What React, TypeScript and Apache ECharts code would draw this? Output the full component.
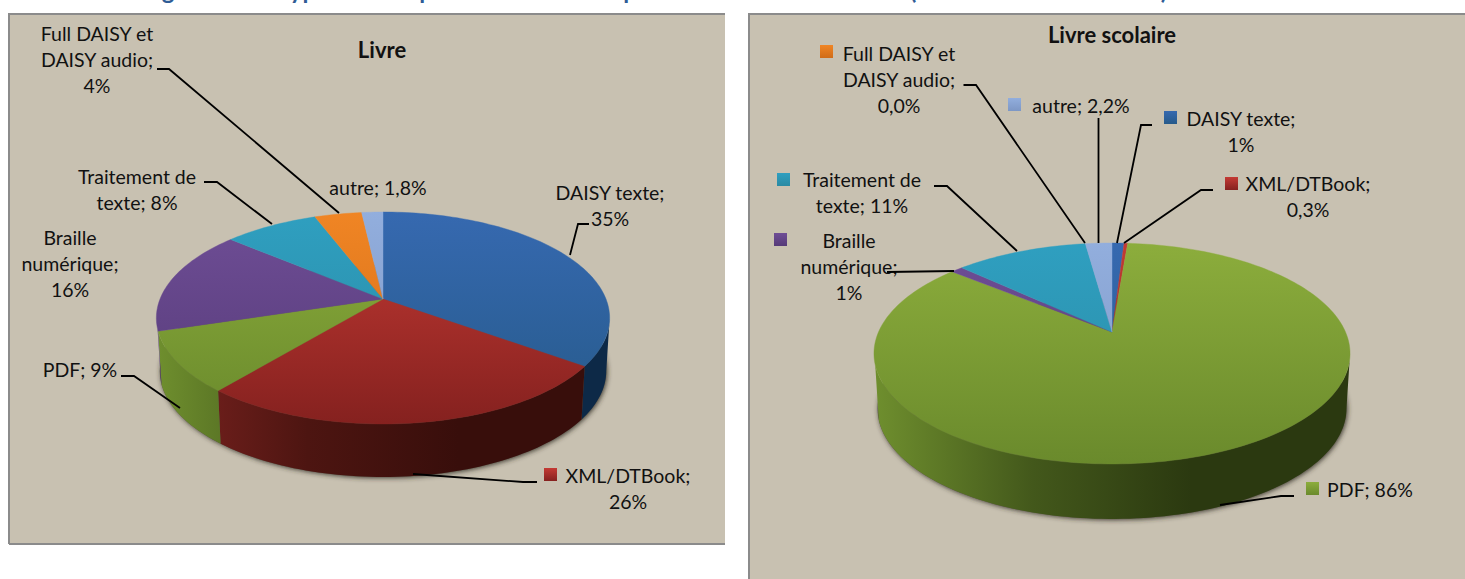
import React, { useEffect, useRef } from "react";
import * as echarts from "echarts";

// ---- data -----------------------------------------------------------
const categories = ["DAISY texte", "XML/DTBook", "PDF", "Braille numérique", "Traitement de texte", "Full DAISY et DAISY audio", "autre"];
const livreValues = [35, 26, 9.2, 16, 8, 4, 1.8];
const scolaireValues = [1, 0.3, 86, 1, 11, 0, 2.2];
const livreLabels = ["DAISY texte;\n35%", "XML/DTBook;\n26%", "PDF; 9%", "Braille\nnumérique;\n16%", "Traitement de\ntexte; 8%", "Full DAISY et\nDAISY audio;\n4%", "autre; 1,8%"];
const scolaireLabels = ["DAISY texte;\n1%", "XML/DTBook;\n0,3%", "PDF; 86%", "Braille\nnumérique;\n1%", "Traitement de\ntexte; 11%", "Full DAISY et\nDAISY audio;\n0,0%", "autre; 2,2%"];
const chartTitles = ["Livre", "Livre scolaire"];
const clippedHeading = [
  { t: "g", x: 168 }, { t: "yp", x: 303 }, { t: "p", x: 426 }, { t: "p", x: 630 }, { t: "(", x: 913 }, { t: ")", x: 1164 },
];

// ---- styling ----------------------------------------------------------
const topColors = [
  ["#3669b0", "#265a8a"], ["#c43a34", "#85211f"], ["#8cad3c", "#6a8a2c"], ["#6f4e96", "#553a78"],
  ["#2f9fc0", "#2a8aa3"], ["#f08524", "#d06c18"], ["#92aedd", "#7d97c5"],
];
const wallColors = [
  ["#1b4a7c", "#123356", "#0d2947"], ["#7d2320", "#4d1511", "#380e0b"], ["#6f8f2e", "#43581b", "#2b3910"], ["#5a3e80", "#3c2a58", "#2a1e40"],
  ["#25809a", "#1a5a6c", "#134352"], ["#b8651c", "#804612", "#5c320d"], ["#7288b4", "#4e5f80", "#38445c"],
];
const FONT = "Lato";
const PANEL = "#c8c1b1";
const EDGE = "#8b8b8b";

type Geom = { cx: number; cy: number; a: number; b: number; k: number; depth: number; shrink: number };
const livreGeom: Geom = { cx: 383, cy: 299, a: 223, b: 102.6, k: 0.179, depth: 53, shrink: 0.985 };
const scolaireGeom: Geom = { cx: 1112, cy: 332, a: 233.5, b: 106.3, k: 0.1945, depth: 55, shrink: 0.985 };

// label centres, key squares and leader lines, in category order
const livreLayout = [
  { x: 610, y: 205, line: [[589, 224], [578, 224], [570, 255]] },
  { x: 628, y: 488, key: [544, 468], line: [[537, 482], [523, 482], [413, 474]] },
  { x: 80, y: 369, line: [[121, 376], [134, 376], [180, 408]] },
  { x: 70, y: 263, line: null },
  { x: 137, y: 189, line: [[204, 182], [217, 182], [272, 224]] },
  { x: 97, y: 59, line: [[157, 69], [169, 69], [339, 213]] },
  { x: 378, y: 187, line: null },
];
const scolaireLayout = [
  { x: 1241, y: 131, key: [1164, 111], line: [[1152, 125], [1141, 125], [1117, 243]] },
  { x: 1308, y: 196, key: [1225, 177], line: [[1213, 190], [1201, 190], [1124, 243]] },
  { x: 1370, y: 489, key: [1306, 482], line: [[1294, 496], [1281, 496], [1220, 505]] },
  { x: 849, y: 266, key: [774, 233], line: [[887, 272], [954, 271]] },
  { x: 862, y: 192, key: [777, 173], line: [[934, 186], [947, 186], [1017, 251]] },
  { x: 899, y: 79, key: [820, 45], line: [[963.5, 85], [976, 85], [1085, 243]] },
  { x: 1081, y: 105, key: [1008, 98], line: [[1098.5, 118], [1098.5, 243]] },
];

// perspective projection of a point of the tilted disc; theta runs clockwise from the top
function project(g: Geom, theta: number) {
  const u = Math.sin(theta);
  const v = Math.cos(theta);
  const d = 1 + g.k * v;
  return [g.cx + (g.a * u) / d, g.cy - (g.b * v) / d];
}

function grad(x0: number, y0: number, x1: number, y1: number, stops: string[]) {
  return new echarts.graphic.LinearGradient(
    x0, y0, x1, y1,
    stops.map((color, i) => ({ offset: i / (stops.length - 1), color })),
    true
  );
}

function sliceRange(values: number[], i: number) {
  const total = values.reduce((s, v) => s + v, 0);
  const before = values.slice(0, i).reduce((s, v) => s + v, 0);
  return [(before / total) * Math.PI * 2, ((before + values[i]) / total) * Math.PI * 2];
}

function pieSeries(values: number[], g: Geom) {
  const top = g.cy - g.b / (1 + g.k);
  const bottom = g.cy + g.b / (1 - g.k);
  const half = g.a / Math.sqrt(1 - g.k * g.k);
  const data = values.map((v) => [v]);
  const walls = {
    type: "custom", coordinateSystem: "none", z: 1, silent: true, data,
    renderItem: (p: any) => {
      const [s, e] = sliceRange(values, p.dataIndex);
      const lo = Math.acos(-g.k);
      const hi = Math.PI * 2 - lo - 0.1;
      const a0 = Math.max(s, lo);
      const a1 = Math.min(e, hi);
      if (a1 <= a0) return null;
      const n = Math.max(2, Math.ceil((a1 - a0) * 40));
      const rim: number[][] = [];
      for (let j = 0; j <= n; j++) rim.push(project(g, a0 + ((a1 - a0) * j) / n));
      const low = rim.map(([x, y]) => [g.cx + (x - g.cx) * g.shrink, y + g.depth]).reverse();
      const c = wallColors[p.dataIndex];
      return {
        type: "polygon",
        shape: { points: rim.concat(low) },
        style: { fill: grad(g.cx + half, 0, g.cx - half, 0, [c[2], c[2], c[1], c[0]]) },
      };
    },
  };
  const tops = {
    type: "custom", coordinateSystem: "none", z: 2, silent: true, data,
    renderItem: (p: any) => {
      const [s, e] = sliceRange(values, p.dataIndex);
      if (e <= s) return null;
      const n = Math.max(2, Math.ceil((e - s) * 40));
      const pts: number[][] = [[g.cx, g.cy]];
      for (let j = 0; j <= n; j++) pts.push(project(g, s + ((e - s) * j) / n));
      const c = topColors[p.dataIndex];
      const fill = grad(0, top, 0, bottom, c);
      return {
        type: "polygon",
        shape: { points: pts },
        style: { fill, stroke: fill, lineWidth: 0.4 },
      };
    },
  };
  return [walls, tops];
}

function text(str: string, x: number, y: number, bold = false) {
  return {
    type: "text", z: 5, silent: true,
    style: {
      text: str, x, y, align: "center", verticalAlign: "middle", lineHeight: 26,
      fontFamily: FONT, fontSize: bold ? 22 : 19.5, fontWeight: bold ? "bold" : "normal", fill: "#111111",
    },
  };
}

function overlay(labels: string[], layout: any[]) {
  const out: any[] = [];
  labels.forEach((l, i) => {
    const lay = layout[i];
    out.push(text(l, lay.x, lay.y));
    if (lay.key) {
      out.push({
        type: "rect", z: 5, silent: true,
        shape: { x: lay.key[0], y: lay.key[1], width: 13, height: 13 },
        style: { fill: new echarts.graphic.LinearGradient(0, 0, 0, 1, [{ offset: 0, color: topColors[i][0] }, { offset: 1, color: topColors[i][1] }]) },
      });
    }
    if (lay.line) {
      out.push({
        type: "polyline", z: 5, silent: true,
        shape: { points: lay.line },
        style: { stroke: "#000000", lineWidth: 1.8, fill: null },
      });
    }
  });
  return out;
}

function shadow(g: Geom) {
  const top = g.cy - g.b / (1 + g.k);
  const bottom = g.cy + g.b / (1 - g.k);
  const half = g.a / Math.sqrt(1 - g.k * g.k);
  return {
    type: "ellipse", z: 0, silent: true,
    shape: { cx: g.cx, cy: (top + bottom) / 2 + g.depth, rx: half * g.shrink, ry: (bottom - top) / 2 },
    style: { fill: "#5a5347", shadowBlur: 5, shadowColor: "rgba(50,45,35,0.9)", shadowOffsetX: 1, shadowOffsetY: 1 },
  };
}

function panel(x: number, y: number, w: number, h: number) {
  return { type: "rect", z: 0, silent: true, shape: { x, y, width: w, height: h }, style: { fill: PANEL } };
}
function edge(points: number[][]) {
  return { type: "polyline", z: 0, silent: true, shape: { points }, style: { stroke: EDGE, lineWidth: 2, fill: null } };
}

export default function App() {
  const ref = useRef<HTMLDivElement>(null);
  useEffect(() => {
    document.body.style.margin = "0";
    document.body.style.overflow = "hidden";
    const chart = echarts.init(ref.current!, null, { renderer: "svg" });
    chart.setOption({
      animation: false,
      backgroundColor: "#ffffff",
      series: [...pieSeries(livreValues, livreGeom), ...pieSeries(scolaireValues, scolaireGeom)],
      graphic: {
        elements: [
          panel(9, 14, 716, 530),
          edge([[9, 544], [9, 14], [725, 14]]),
          edge([[9, 544], [725, 544]]),
          panel(749, 14, 716, 565),
          edge([[749, 579], [749, 14], [1465, 14]]),
          shadow(livreGeom),
          shadow(scolaireGeom),
          ...clippedHeading.map((h) => ({
            type: "text", z: 5, silent: true,
            style: { text: h.t, x: h.x, y: 1, align: "center", verticalAlign: "bottom", fontFamily: FONT, fontSize: 24, fontWeight: "bold", fill: "#2f5c96" },
          })),
          text(chartTitles[0], 382, 49, true),
          text(chartTitles[1], 1112, 34, true),
          ...overlay(livreLabels, livreLayout),
          ...overlay(scolaireLabels, scolaireLayout),
        ],
      },
    });
    return () => chart.dispose();
  }, []);
  return <div ref={ref} style={{ position: "fixed", left: 0, top: 0, width: 1465, height: 579 }} />;
}
